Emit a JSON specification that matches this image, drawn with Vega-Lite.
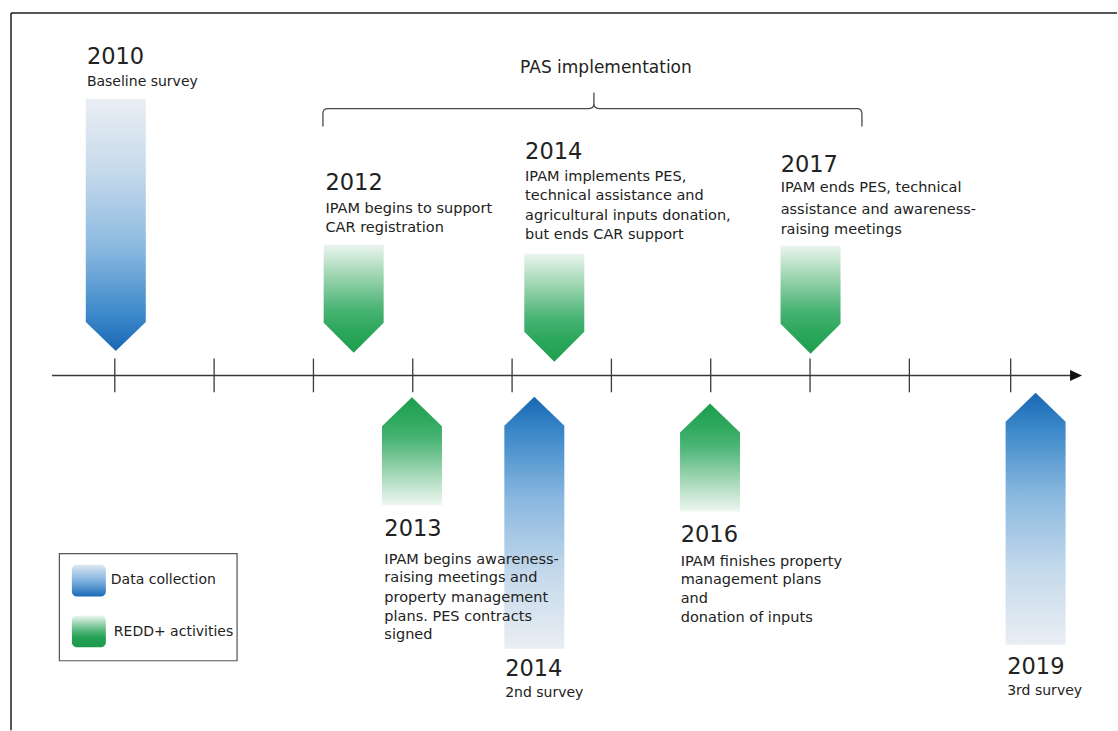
{
  "$schema": "https://vega.github.io/schema/vega-lite/v6.json",
  "width": 1118,
  "height": 731,
  "autosize": {"type": "fit", "contains": "padding"},
  "padding": 0,
  "background": "#ffffff",
  "config": {"view": {"stroke": null}, "text": {"font": "DejaVu Sans", "color": "#222222"}},
  "datasets": {
    "border": [
      {"u": -1.045, "v": 3.658, "u2": 10.09, "v2": 3.658},
      {"u": -1.045, "v": 3.658, "u2": -1.045, "v2": -3.58}
    ],
    "axisline": [{"u": -0.633, "u2": 9.64, "v": 0}],
    "axishead": [{"u": 9.678, "v": 0}],
    "ticks": [
      {"u": 0, "v": 0.17, "v2": -0.17},
      {"u": 1, "v": 0.17, "v2": -0.17},
      {"u": 2, "v": 0.17, "v2": -0.17},
      {"u": 3, "v": 0.17, "v2": -0.17},
      {"u": 4, "v": 0.17, "v2": -0.17},
      {"u": 5, "v": 0.17, "v2": -0.17},
      {"u": 6, "v": 0.17, "v2": -0.17},
      {"u": 7, "v": 0.17, "v2": -0.17},
      {"u": 8, "v": 0.17, "v2": -0.17},
      {"u": 9.02, "v": 0.17, "v2": -0.17}
    ],
    "brace": [{"label": "PAS implementation", "u": 4.824, "v": 2.693}],
    "arrows": [
      {"event": "2010 Baseline survey", "kind": "survey", "dir": "down", "u": 0.01, "v": 1.518},
      {"event": "2014 2nd survey", "kind": "survey", "dir": "up", "u": 4.224, "v": -1.487},
      {"event": "2019 3rd survey", "kind": "survey", "dir": "up", "u": 9.271, "v": -1.447},
      {"event": "2012", "kind": "activity", "dir": "down", "u": 2.405, "v": 0.774},
      {"event": "2014", "kind": "activity", "dir": "down", "u": 4.425, "v": 0.683},
      {"event": "2017", "kind": "activity", "dir": "down", "u": 7.005, "v": 0.764},
      {"event": "2013", "kind": "activity", "dir": "up", "u": 2.992, "v": -0.764},
      {"event": "2016", "kind": "activity", "dir": "up", "u": 5.993, "v": -0.829}
    ],
    "legendbox": [{"u": -0.558, "u2": 1.231, "v": -1.799, "v2": -2.879}],
    "swatches": [
      {"kind": "survey", "u": -0.432, "u2": -0.09, "v": -1.91, "v2": -2.231},
      {"kind": "activity", "u": -0.432, "u2": -0.09, "v": -2.422, "v2": -2.744}
    ],
    "texts": [
      {"kind": "year", "text": "2010", "u": -0.281, "v": 3.216},
      {"kind": "sub", "text": "Baseline survey", "u": -0.281, "v": 2.965},
      {"kind": "title", "text": "PAS implementation", "u": 4.945, "v": 3.106},
      {"kind": "year", "text": "2012", "u": 2.121, "v": 1.94},
      {"kind": "desc", "text": "IPAM begins to support", "u": 2.121, "v": 1.683},
      {"kind": "desc", "text": "CAR registration", "u": 2.121, "v": 1.492},
      {"kind": "year", "text": "2014", "u": 4.131, "v": 2.251},
      {"kind": "desc", "text": "IPAM implements PES,", "u": 4.131, "v": 2.005},
      {"kind": "desc", "text": "technical assistance and", "u": 4.131, "v": 1.809},
      {"kind": "desc", "text": "agricultural inputs donation,", "u": 4.131, "v": 1.613},
      {"kind": "desc", "text": "but ends CAR support", "u": 4.131, "v": 1.422},
      {"kind": "year", "text": "2017", "u": 6.704, "v": 2.121},
      {"kind": "desc", "text": "IPAM ends PES, technical", "u": 6.704, "v": 1.888},
      {"kind": "desc", "text": "assistance and awareness-", "u": 6.704, "v": 1.668},
      {"kind": "desc", "text": "raising meetings", "u": 6.704, "v": 1.472},
      {"kind": "year", "text": "2013", "u": 2.714, "v": -1.548},
      {"kind": "desc", "text": "IPAM begins awareness-", "u": 2.714, "v": -1.859},
      {"kind": "desc", "text": "raising meetings and", "u": 2.714, "v": -2.045},
      {"kind": "desc", "text": "property management", "u": 2.714, "v": -2.241},
      {"kind": "desc", "text": "plans. PES contracts", "u": 2.714, "v": -2.437},
      {"kind": "desc", "text": "signed", "u": 2.714, "v": -2.623},
      {"kind": "year", "text": "2014", "u": 3.93, "v": -2.965},
      {"kind": "sub", "text": "2nd survey", "u": 3.93, "v": -3.2},
      {"kind": "year", "text": "2016", "u": 5.698, "v": -1.608},
      {"kind": "desc", "text": "IPAM finishes property", "u": 5.698, "v": -1.879},
      {"kind": "desc", "text": "management plans", "u": 5.698, "v": -2.065},
      {"kind": "desc", "text": "and", "u": 5.698, "v": -2.256},
      {"kind": "desc", "text": "donation of inputs", "u": 5.698, "v": -2.452},
      {"kind": "year", "text": "2019", "u": 8.985, "v": -2.945},
      {"kind": "sub", "text": "3rd survey", "u": 8.985, "v": -3.18},
      {"kind": "legend", "text": "Data collection", "u": -0.04, "v": -2.06},
      {"kind": "legend", "text": "REDD+ activities", "u": -0.01, "v": -2.593}
    ]
  },
  "encoding": {
    "x": {"field": "u", "type": "quantitative", "axis": null, "scale": {"domain": [-1.1558, 10.0804], "nice": false, "zero": false}},
    "y": {"field": "v", "type": "quantitative", "axis": null, "scale": {"domain": [-3.5578, 3.7889], "nice": false, "zero": false}}
  },
  "layer": [
    {
      "data": {"name": "border"},
      "mark": {"type": "rule", "color": "#1e1e1e", "strokeWidth": 1.5},
      "encoding": {"x2": {"field": "u2"}, "y2": {"field": "v2"}}
    },
    {
      "data": {"name": "axisline"},
      "mark": {"type": "rule", "color": "#3a3a3a", "strokeWidth": 1.5},
      "encoding": {"x2": {"field": "u2"}}
    },
    {
      "data": {"name": "ticks"},
      "mark": {"type": "rule", "color": "#3a3a3a", "strokeWidth": 1.3},
      "encoding": {"y2": {"field": "v2"}}
    },
    {
      "data": {"name": "axishead"},
      "mark": {"type": "point", "shape": "M-6,-5.5L6,0L-6,5.5Z", "size": 4, "filled": true, "fill": "#111111", "opacity": 1, "strokeWidth": 0}
    },
    {
      "data": {"name": "brace"},
      "mark": {"type": "point", "shape": "M-271,18L-271,5Q-271,0 -266,0L-5,0Q0,0 0,-5L0,-16M0,-5Q0,0 5,0L263,0Q268,0 268,5L268,18", "size": 4, "filled": false, "stroke": "#4a4a4a", "strokeWidth": 1.3, "opacity": 1}
    },
    {
      "data": {"name": "arrows"},
      "transform": [{"filter": "datum.kind === 'survey' && datum.dir === 'down'"}],
      "mark": {"type": "point", "shape": "M-30,-126L30,-126L30,97L0,126L-30,97Z", "size": 4, "filled": true, "opacity": 1, "strokeWidth": 0,
        "fill": {"gradient": "linear", "x1": 0, "y1": 0, "x2": 0, "y2": 1, "stops": [
          {"offset": 0, "color": "#eaeef3"}, {"offset": 0.3, "color": "#c4d9eb"}, {"offset": 0.6, "color": "#88b7df"}, {"offset": 0.85, "color": "#3e8aca"}, {"offset": 1, "color": "#1767b3"}]}}
    },
    {
      "data": {"name": "arrows"},
      "transform": [{"filter": "datum.kind === 'survey' && datum.dir === 'up'"}],
      "mark": {"type": "point", "shape": "M0,-126L30,-97L30,126L-30,126L-30,-97Z", "size": 4, "filled": true, "opacity": 1, "strokeWidth": 0,
        "fill": {"gradient": "linear", "x1": 0, "y1": 1, "x2": 0, "y2": 0, "stops": [
          {"offset": 0, "color": "#eaeef3"}, {"offset": 0.3, "color": "#c4d9eb"}, {"offset": 0.6, "color": "#88b7df"}, {"offset": 0.85, "color": "#3e8aca"}, {"offset": 1, "color": "#1767b3"}]}}
    },
    {
      "data": {"name": "arrows"},
      "transform": [{"filter": "datum.kind === 'activity' && datum.dir === 'down'"}],
      "mark": {"type": "point", "shape": "M-30,-54L30,-54L30,24L0,54L-30,24Z", "size": 4, "filled": true, "opacity": 1, "strokeWidth": 0,
        "fill": {"gradient": "linear", "x1": 0, "y1": 0, "x2": 0, "y2": 1, "stops": [
          {"offset": 0, "color": "#eaf5ee"}, {"offset": 0.3, "color": "#9ad4ae"}, {"offset": 0.6, "color": "#48b373"}, {"offset": 0.8, "color": "#2ba75b"}, {"offset": 1, "color": "#1f9e4f"}]}}
    },
    {
      "data": {"name": "arrows"},
      "transform": [{"filter": "datum.kind === 'activity' && datum.dir === 'up'"}],
      "mark": {"type": "point", "shape": "M0,-54L30,-25L30,54L-30,54L-30,-25Z", "size": 4, "filled": true, "opacity": 1, "strokeWidth": 0,
        "fill": {"gradient": "linear", "x1": 0, "y1": 1, "x2": 0, "y2": 0, "stops": [
          {"offset": 0, "color": "#eef7f1"}, {"offset": 0.3, "color": "#a0d6b3"}, {"offset": 0.6, "color": "#4cb577"}, {"offset": 0.8, "color": "#2da85c"}, {"offset": 1, "color": "#1f9e4f"}]}}
    },
    {
      "data": {"name": "legendbox"},
      "mark": {"type": "rect", "fill": "#ffffff", "fillOpacity": 0, "stroke": "#555555", "strokeWidth": 1.2},
      "encoding": {"x2": {"field": "u2"}, "y2": {"field": "v2"}}
    },
    {
      "data": {"name": "swatches"},
      "transform": [{"filter": "datum.kind === 'survey'"}],
      "mark": {"type": "rect", "cornerRadius": 5,
        "fill": {"gradient": "linear", "x1": 0, "y1": 0, "x2": 0, "y2": 1, "stops": [
          {"offset": 0, "color": "#dde8f3"}, {"offset": 0.5, "color": "#80b2de"}, {"offset": 1, "color": "#1a6ab5"}]}},
      "encoding": {"x2": {"field": "u2"}, "y2": {"field": "v2"}}
    },
    {
      "data": {"name": "swatches"},
      "transform": [{"filter": "datum.kind === 'activity'"}],
      "mark": {"type": "rect", "cornerRadius": 5,
        "fill": {"gradient": "linear", "x1": 0, "y1": 0, "x2": 0, "y2": 1, "stops": [
          {"offset": 0, "color": "#eef7f1"}, {"offset": 0.45, "color": "#5dbb82"}, {"offset": 0.7, "color": "#23a052"}, {"offset": 1, "color": "#1e9a4c"}]}},
      "encoding": {"x2": {"field": "u2"}, "y2": {"field": "v2"}}
    },
    {
      "data": {"name": "texts"},
      "transform": [{"filter": "datum.kind === 'year'"}],
      "mark": {"type": "text", "align": "left", "baseline": "middle", "fontSize": 22.5},
      "encoding": {"text": {"field": "text", "type": "nominal"}}
    },
    {
      "data": {"name": "texts"},
      "transform": [{"filter": "datum.kind === 'desc'"}],
      "mark": {"type": "text", "align": "left", "baseline": "middle", "fontSize": 14.5},
      "encoding": {"text": {"field": "text", "type": "nominal"}}
    },
    {
      "data": {"name": "texts"},
      "transform": [{"filter": "datum.kind === 'sub' || datum.kind === 'legend'"}],
      "mark": {"type": "text", "align": "left", "baseline": "middle", "fontSize": 14},
      "encoding": {"text": {"field": "text", "type": "nominal"}}
    },
    {
      "data": {"name": "texts"},
      "transform": [{"filter": "datum.kind === 'title'"}],
      "mark": {"type": "text", "align": "center", "baseline": "middle", "fontSize": 17},
      "encoding": {"text": {"field": "text", "type": "nominal"}}
    }
  ]
}
